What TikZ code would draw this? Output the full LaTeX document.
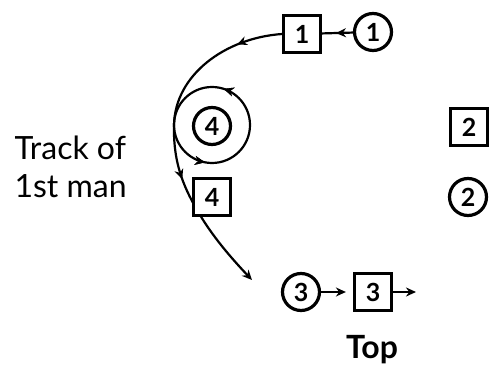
\documentclass[tikz,border=0pt]{standalone}
\usepackage{fontspec}
\setmainfont{Lato}
\usetikzlibrary{arrows.meta,decorations.markings}
\begin{document}
\begin{tikzpicture}[x=1pt,y=1pt,
  man/.style={circle,draw,line width=3.2pt,minimum size=37pt,inner sep=0pt,fill=white,font=\fontsize{25}{25}\selectfont\bfseries},
  spot/.style={rectangle,draw,line width=3.2pt,minimum size=37pt,inner sep=0pt,fill=white,font=\fontsize{25}{25}\selectfont\bfseries},
  track/.style={line width=2.2pt},
  tip/.style={-{Stealth[length=10pt,width=9pt]}},
  midarrow/.style={postaction={decorate},decoration={markings,mark=at position #1 with {\arrow{Stealth[length=10pt,width=9pt]}}}},
  lbl/.style={font=\fontsize{32}{38}\selectfont,align=left}
]
\useasboundingbox (0,0) rectangle (500,369);
% track curve
\coordinate (s1) at (282,335);
\coordinate (s2) at (174,244);
\coordinate (s3) at (200,154);
\coordinate (tend) at (252,89);
\draw[track,midarrow=0.3] (s1) .. controls (225,331) and (175,294) .. (s2);
\draw[track,midarrow=0.58] (s2) .. controls (173,204) and (185,179) .. (s3);
\draw[track,tip] (s3) .. controls (215,129) and (235,107) .. (tend);
% ring
\coordinate (rc) at (212,244);
\draw[track,midarrow=0.2,midarrow=0.72] (rc) circle[radius=38];
% nodes
\node[man] (c1) at (373,337) {1};
\node[spot] (b1) at (302,335) {1};
\node[spot] (b2) at (469,242) {2};
\node[man] (c2) at (468,172) {2};
\node[man] (c4) at (212,243) {4};
\node[spot] (b4) at (212,172) {4};
\node[man] (c3) at (301,77) {3};
\node[spot] (b3) at (373,77) {3};
\coordinate (out3) at (416,77);
% connectors
\draw[track,midarrow=0.55] (c1) -- (b1);
\draw[track,tip,shorten >=7pt] (c3) -- (b3);
\draw[track,tip] (b3) -- (out3);
% labels
\node[lbl,anchor=west] (trk) at (11,202) {Track of\\1st man};
\node[font=\fontsize{32}{32}\selectfont\bfseries] (top) at (372,19) {Top};
\end{tikzpicture}
\end{document}
